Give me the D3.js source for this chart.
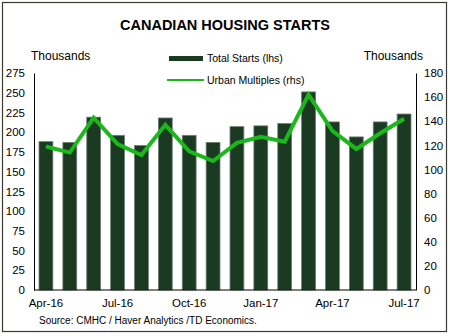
<!DOCTYPE html>
<html>
<head>
<meta charset="utf-8">
<script src="https://d3js.org/d3.v7.min.js"></script>
<style>
  body { margin: 0; background: #fff; }
  text { font-family: Arial, "Liberation Sans", sans-serif; fill: #000; }
</style>
</head>
<body>
<div id="chart"></div>
<script>
// months and values
const months = ["Apr-16","May-16","Jun-16","Jul-16","Aug-16","Sep-16","Oct-16","Nov-16",
                "Dec-16","Jan-17","Feb-17","Mar-17","Apr-17","May-17","Jun-17","Jul-17"];
const totalStarts = [188, 187, 219, 196, 183, 218, 196, 187, 207, 208, 211, 251, 213, 194, 213, 223];
const urbanMultiples = [119, 114, 143, 121, 112, 137, 115, 107, 122, 127, 123, 162, 132, 117, 130, 142];
const xLabels = ["Apr-16","Jul-16","Oct-16","Jan-17","Apr-17","Jul-17"];
const leftTicks = [0, 25, 50, 75, 100, 125, 150, 175, 200, 225, 250, 275];
const rightTicks = [0, 20, 40, 60, 80, 100, 120, 140, 160, 180];

const W = 450, H = 336;
const plot = {left: 34, right: 416, top: 73, bottom: 290};

const svg = d3.select("#chart").append("svg")
  .attr("width", W).attr("height", H);

// outer frame
svg.append("rect")
  .attr("x", 2.5).attr("y", 2.5)
  .attr("width", 444).attr("height", 329)
  .attr("fill", "none").attr("stroke", "#3a3a32").attr("stroke-width", 1.2);

// scales
const x = d3.scaleBand().domain(months).range([plot.left, plot.right]).paddingInner(0.42).paddingOuter(0.21);
const yL = d3.scaleLinear().domain([0, 275]).range([plot.bottom, plot.top]);
const yR = d3.scaleLinear().domain([0, 180]).range([plot.bottom, plot.top]);

// title
svg.append("text")
  .attr("x", 225).attr("y", 30)
  .attr("text-anchor", "middle")
  .style("font-size", "14.5px").style("font-weight", "bold")
  .text("CANADIAN HOUSING STARTS");

// axis titles
svg.append("text").attr("x", 31).attr("y", 60).style("font-size", "12px").text("Thousands");
svg.append("text").attr("x", 423).attr("y", 60).attr("text-anchor", "end").style("font-size", "12px").text("Thousands");

// bars
svg.selectAll(".bar")
  .data(totalStarts)
  .join("rect")
    .attr("class", "bar")
    .attr("x", (d, i) => x(months[i]))
    .attr("y", d => yL(d))
    .attr("width", x.bandwidth())
    .attr("height", d => yL(0) - yL(d))
    .attr("fill", "#1a3a21")
    .attr("stroke", "#6f7d6f")
    .attr("stroke-width", 0.8);

// line
const line = d3.line()
  .x((d, i) => x(months[i]) + x.bandwidth() / 2)
  .y(d => yR(d));
svg.append("path")
  .datum(urbanMultiples)
  .attr("d", line)
  .attr("fill", "none")
  .attr("stroke", "#1bb81b")
  .attr("stroke-width", 4)
  .attr("stroke-linejoin", "miter");

// left axis
const axL = svg.append("g")
  .attr("transform", `translate(${plot.left},0)`)
  .call(d3.axisLeft(yL).tickValues(leftTicks).tickSize(0).tickPadding(9));
axL.select(".domain").attr("stroke", "#000");
axL.selectAll("text").style("font-size", "11.5px").style("font-family", "Arial, 'Liberation Sans', sans-serif");

// right axis
const axR = svg.append("g")
  .attr("transform", `translate(${plot.right},0)`)
  .call(d3.axisRight(yR).tickValues(rightTicks).tickSize(0).tickPadding(8));
axR.select(".domain").attr("stroke", "#000");
axR.selectAll("text").style("font-size", "11.5px").style("font-family", "Arial, 'Liberation Sans', sans-serif");

// bottom axis
const axB = svg.append("g")
  .attr("transform", `translate(0,${plot.bottom})`)
  .call(d3.axisBottom(x).tickValues(xLabels).tickSize(0).tickPadding(9));
axB.select(".domain").attr("stroke", "#000").attr("d", `M${plot.left},0H${plot.right}`);
axB.selectAll("text").style("font-size", "11.5px").style("font-family", "Arial, 'Liberation Sans', sans-serif");

// legend
svg.append("rect").attr("x", 169).attr("y", 56).attr("width", 34).attr("height", 5).attr("fill", "#1a3a21");
svg.append("text").attr("x", 207).attr("y", 62).style("font-size", "10.5px").text("Total Starts (lhs)");
svg.append("line").attr("x1", 167).attr("x2", 204).attr("y1", 80).attr("y2", 80)
  .attr("stroke", "#1bb81b").attr("stroke-width", 2);
svg.append("text").attr("x", 207).attr("y", 84).style("font-size", "10.5px").text("Urban Multiples (rhs)");

// source
svg.append("text").attr("x", 39).attr("y", 324).style("font-size", "10px")
  .text("Source: CMHC / Haver Analytics /TD Economics.");
</script>
</body>
</html>
